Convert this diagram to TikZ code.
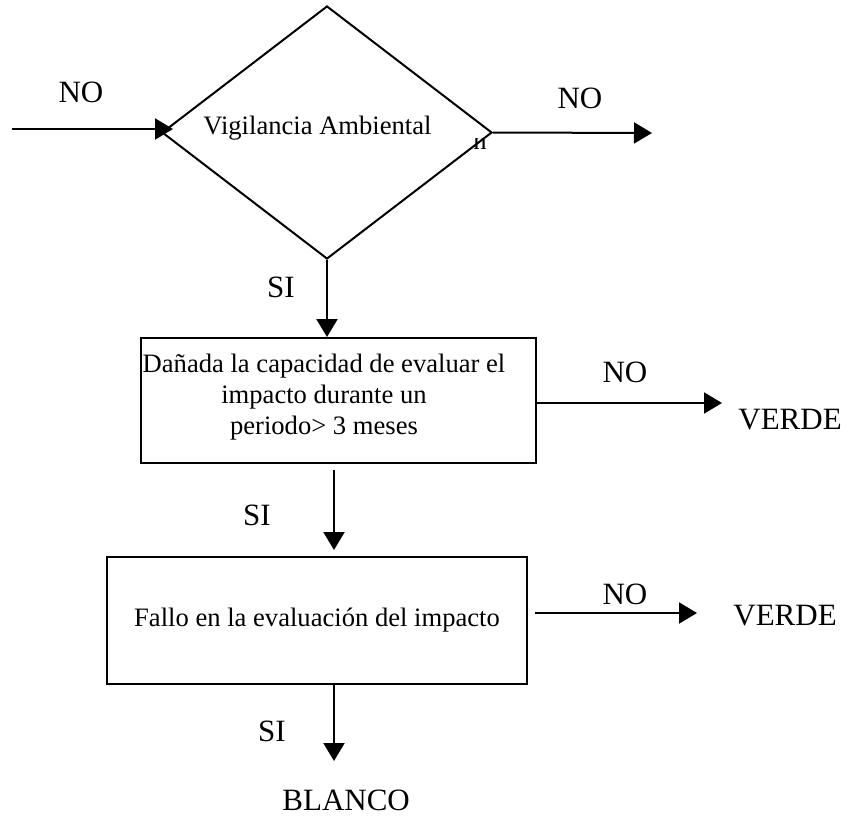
\documentclass[tikz,border=0pt]{standalone}
\usepackage{fontspec}
\setmainfont{Liberation Serif}
\usetikzlibrary{shapes.geometric,arrows.meta}
\begin{document}
\begin{tikzpicture}[x=0.5pt,y=-0.5pt,
  flow/.style={line width=1pt,-{Triangle[length=9pt,width=10.5pt]}},
  frame/.style={draw,line width=1pt,inner sep=0pt},
  boxtext/.style={font=\fontsize{13.3}{15.6}\selectfont,align=center,inner sep=0pt},
  lbl/.style={font=\fontsize{15.5}{18}\selectfont,inner sep=0pt},
]
\useasboundingbox (0,0) rectangle (853,819);

% decision: environmental monitoring
\node[frame,diamond,minimum width=165pt,minimum height=126.5pt] (vig) at (327,132.5) {};
\node[boxtext,anchor=base] (vigtxt) at (317.5,134) {Vigilancia Ambiental};
\begin{scope}
  \clip (470,138) rectangle (492,152);
  \node[boxtext,anchor=base] (frag) at (480,149) {n};
\end{scope}

% first check
\node[frame,minimum width=197.5pt,minimum height=62.5pt] (dmg) at (338.5,400.5) {};
\node[boxtext] (dmgtxt) at (324,397) {Dañada la capacidad de evaluar el\\impacto durante un\\periodo> 3 meses};

% second check
\node[frame,boxtext,draw,minimum width=210pt,minimum height=63.5pt] (fallo) at (317,620.5) {Fallo en la evaluación del impacto};

% connector end points
\coordinate (inL) at (12,129);
\coordinate (inLtip) at (173,129);
\coordinate (outR) at (652,133);
\coordinate (v1) at (722,403);
\coordinate (a2s) at (334,470);
\coordinate (a2e) at (334,550);
\coordinate (v2s) at (535,613);
\coordinate (v2e) at (697,613);
\coordinate (bs) at (334,684);
\coordinate (be) at (334,761);

% connectors
\draw[flow] (inL) -- (inLtip);
\draw[flow] (vig.east) -- (outR);
\draw[flow] (vig.south) -- (vig.south |- dmg.north);
\draw[flow] (dmg.east |- v1) -- (v1);
\draw[flow] (a2s) -- (a2e);
\draw[flow] (v2s) -- (v2e);
\draw[flow] (bs) -- (be);

% labels
\node[lbl] (no1) at (81,92) {NO};
\node[lbl] (no2) at (580,98) {NO};
\node[lbl] (si1) at (281,287) {SI};
\node[lbl] (no3) at (625,372) {NO};
\node[lbl,anchor=west] (verde1) at (738,420) {VERDE};
\node[lbl] (si2) at (257,515) {SI};
\node[lbl] (no4) at (625,594) {NO};
\node[lbl,anchor=west] (verde2) at (733,616) {VERDE};
\node[lbl] (si3) at (272,731) {SI};
\node[lbl,anchor=west] (blanco) at (282,800) {BLANCO};
\end{tikzpicture}
\end{document}
